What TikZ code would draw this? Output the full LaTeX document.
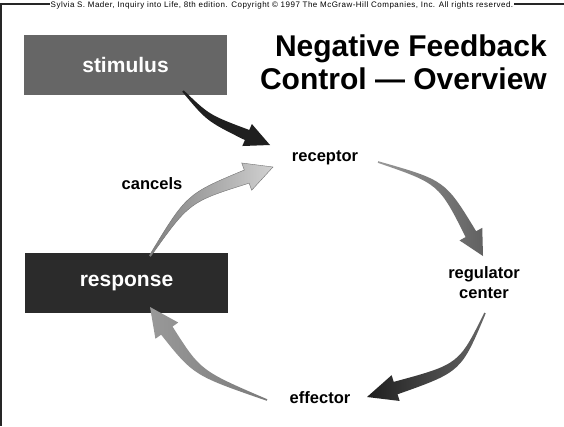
\documentclass[tikz,border=0pt]{standalone}
\usepackage{fontspec}
\setmainfont{Liberation Sans}
\usetikzlibrary{calc}
\newcommand\swoosh[8]{%
  \coordinate (swT) at (#1);
  \coordinate (swC) at (#2);
  \coordinate (swP) at (#3);
  \coordinate (swB) at ($(swP)!#7!(swC)$);
  \path[#8] ($(swT)!#4!90:(swC)$) .. controls ($(swC)!#5*0.6!90:(swB)$) .. ($(swB)!#5!90:(swP)$)
    -- ($(swB)!#6!90:(swP)$) -- (swP) -- ($(swB)!#6!-90:(swP)$) -- ($(swB)!#5!-90:(swP)$)
    .. controls ($(swC)!#5*0.6!-90:(swB)$) .. ($(swT)!#4!-90:(swC)$) -- cycle;
}
\tikzset{
  box/.style={minimum width=203pt, minimum height=60pt, inner sep=0pt, text=white,
    font=\fontsize{21}{24}\selectfont\bfseries},
  lbl/.style={font=\fontsize{16.5}{20}\selectfont\bfseries, inner sep=0pt, align=center},
  frame/.style={line width=1.3pt, black!85},
  ttl/.style={anchor=base east, font=\fontsize{30}{33}\selectfont\bfseries, inner sep=0pt},
}
\begin{document}
\begin{tikzpicture}[x=1pt,y=-1pt]
\useasboundingbox (0,0) rectangle (564,426);
\fill[white] (0,0) rectangle (564,426);
\draw[frame] (0,4) -- (564,4);
\draw[frame] (1,4) -- (1,426);
\node[fill=white, inner sep=1pt, font=\fontsize{8}{9}\selectfont\addfontfeature{LetterSpace=6}] (copy) at (282,5)
  {Sylvia S. Mader, Inquiry into Life, 8th edition. Copyright \textcopyright\ 1997 The McGraw-Hill Companies, Inc. All rights reserved.};

\node[box, fill=black!60] (stim) at (125.5,65) {stimulus};
\node[box, fill=black!83] (resp) at (126.5,283) {response};

\node[ttl] (t1) at (547,56) {Negative Feedback};
\node[ttl] (t2) at (547,89) {Control --- Overview};

\node[lbl] (rec) at (325,158) {receptor};
\node[lbl] (reg) at (484,283) {regulator\\center};
\node[lbl] (eff) at (320,398) {effector};
\node[lbl] (can) at (152,184) {cancels};

% connector end points
\coordinate (aT) at (183,91);  \coordinate (aC) at (208,118); \coordinate (aP) at (270,145);
\coordinate (bT) at (150,256); \coordinate (bC) at (188,198); \coordinate (bP) at (273,167);
\coordinate (cT) at (378,162); \coordinate (cC) at (442,182); \coordinate (cP) at (483,256);
\coordinate (dT) at (485,313); \coordinate (dC) at (460,368); \coordinate (dP) at (367,397);
\coordinate (eT) at (267,400); \coordinate (eC) at (197,373); \coordinate (eP) at (150,307);

\swoosh{aT}{aC}{aP}{1pt}{5.5pt}{12pt}{25pt}{fill=black!88}
\swoosh{bT}{bC}{bP}{0.8pt}{7pt}{14.5pt}{28pt}{left color=black!50, right color=black!18, draw=black!55, line width=0.4pt}
\swoosh{cT}{cC}{cP}{0.8pt}{6pt}{13pt}{25pt}{left color=black!40, right color=black!62}
\swoosh{dT}{dC}{dP}{0.8pt}{6.5pt}{13.5pt}{30pt}{left color=black!88, right color=black!60}
\swoosh{eT}{eC}{eP}{0.8pt}{7pt}{14pt}{29pt}{left color=black!40, right color=black!52}
\end{tikzpicture}
\end{document}
